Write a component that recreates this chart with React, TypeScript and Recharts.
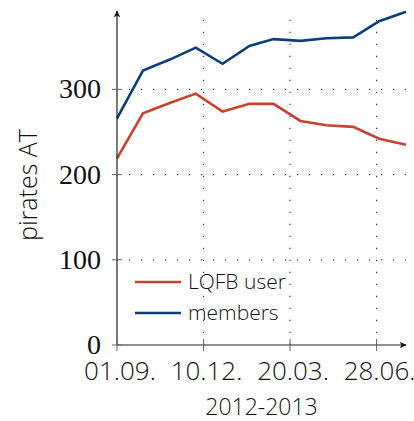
import React from 'react';
import { LineChart, Line, XAxis, YAxis, ReferenceLine, Label } from 'recharts';

// monthly samples, first day of each month
const months = [
  '2012-09-01', '2012-10-01', '2012-11-01', '2012-12-01', '2013-01-01', '2013-02-01',
  '2013-03-01', '2013-04-01', '2013-05-01', '2013-06-01', '2013-07-01', '2013-08-01',
];
const lqfbUsers = [219, 272, 284, 295, 274, 283, 283, 263, 258, 256, 242, 235];
const members = [266, 322, 335, 349, 330, 351, 359, 357, 360, 361, 380, 391];

const tickDates = ['2012-09-01', '2012-12-10', '2013-03-20', '2013-06-28'];
const tickLabels = ['01.09.', '10.12.', '20.03.', '28.06.'];
const yTicks = [0, 100, 200, 300];

const RED = '#c6432f';
const BLUE = '#0c3f77';
const SANS = '"Open Sans", "DejaVu Sans", sans-serif';
const SERIF = '"Liberation Serif", "DejaVu Serif", serif';
const GRID = { stroke: '#333', strokeWidth: 1.2, strokeDasharray: '1.2 10.8' };

const START = Date.parse(months[0]);
const dayOf = (iso: string) => Math.round((Date.parse(iso) - START) / 86400000);

const data = months.map((m, i) => ({ day: dayOf(m), lqfb: lqfbUsers[i], members: members[i] }));
const xTicks = tickDates.map(dayOf);

const series = [
  { key: 'lqfb', name: 'LQFB user', color: RED },
  { key: 'members', name: 'members', color: BLUE },
];

const XTick = (props: any) => {
  const { x, y, payload } = props;
  const idx = xTicks.indexOf(payload.value);
  return (
    <g>
      <line x1={x} x2={x} y1={y - 6} y2={y + 6} stroke="#666" strokeWidth={1} />
      <text x={x + 3} y={y + 35} textAnchor="middle" fontFamily={SANS} fontWeight={300} fontSize={26} fill="#111">
        {tickLabels[idx]}
      </text>
    </g>
  );
};

const YTick = (props: any) => {
  const { x, y, payload } = props;
  return (
    <g>
      <line x1={x - 5} x2={x + 5} y1={y} y2={y} stroke="#666" strokeWidth={1} />
      <text x={x - 16} y={y + 9} textAnchor="end" fontFamily={SERIF} fontSize={28} fill="#111">
        {payload.value}
      </text>
    </g>
  );
};

export default function App() {
  return (
    <div style={{ position: 'absolute', left: 0, top: 0, width: 414, height: 421, fontFamily: SANS }}>
      <LineChart width={414} height={421} data={data} margin={{ top: 11, right: 8, left: 0, bottom: 0 }}>
        <defs>
          <marker id="arrow" viewBox="0 0 10 10" refX="8" refY="5" markerWidth="8" markerHeight="8"
            markerUnits="userSpaceOnUse" orient="auto-start-reverse">
            <path d="M0,1 L9,5 L0,9 L2.5,5 Z" fill="#111" />
          </marker>
        </defs>
        <XAxis
          dataKey="day"
          type="number"
          domain={[0, 334]}
          ticks={xTicks}
          height={76}
          tickSize={0}
          tickMargin={0}
          tickLine={false}
          tick={<XTick />}
          axisLine={{ stroke: '#222', strokeWidth: 1.2, markerEnd: 'url(#arrow)' }}
        >
          <Label value="2012-2013" position="insideBottom" offset={6} fontFamily={SANS} fontWeight={300} fontSize={23} fill="#111" />
        </XAxis>
        <YAxis
          type="number"
          domain={[0, 392]}
          ticks={yTicks}
          width={117}
          tickSize={0}
          tickMargin={0}
          tickLine={false}
          tick={<YTick />}
          axisLine={{ stroke: '#222', strokeWidth: 1.2, markerStart: 'url(#arrow)' }}
        >
          <Label
            content={() => (
              <text transform="translate(27,185) rotate(-90)" textAnchor="middle" dominantBaseline="central"
                fontFamily={SANS} fontWeight={300} fontSize={25} fill="#111">
                pirates AT
              </text>
            )}
          />
        </YAxis>
        {yTicks.slice(1).map((t) => (
          <ReferenceLine key={'h' + t} y={t} {...GRID} />
        ))}
        {xTicks.slice(1).map((t) => (
          <ReferenceLine key={'v' + t} x={t} {...GRID} />
        ))}
        {series.map((s) => (
          <Line key={s.key} dataKey={s.key} name={s.name} stroke={s.color} strokeWidth={2.6}
            dot={false} isAnimationActive={false} />
        ))}
      </LineChart>
      <div style={{ position: 'absolute', left: 134, top: 266 }}>
        {series.map((s) => (
          <div key={s.key} style={{ display: 'flex', alignItems: 'center', height: 31 }}>
            <svg width={48} height={10} style={{ marginRight: 6 }}>
              <line x1={1} x2={47} y1={5} y2={5} stroke={s.color} strokeWidth={2.6} />
            </svg>
            <span style={{ fontSize: 21, fontWeight: 300, color: '#111', lineHeight: '31px' }}>{s.name}</span>
          </div>
        ))}
      </div>
    </div>
  );
}
